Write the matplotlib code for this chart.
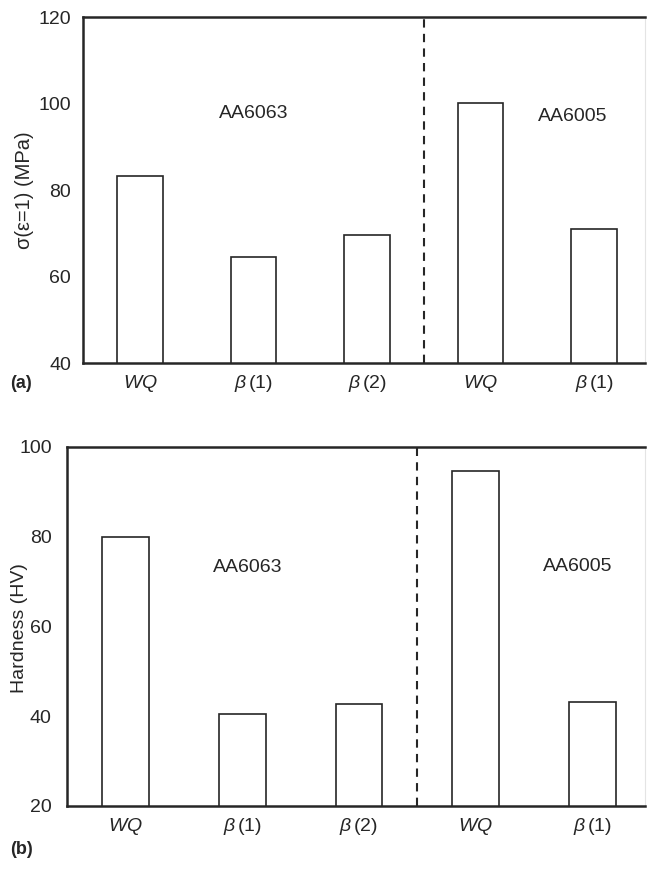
import matplotlib
matplotlib.use("Agg")
import matplotlib.pyplot as plt

plt.rcParams['font.family'] = ['Liberation Sans', 'DejaVu Sans']
plt.rcParams['mathtext.fontset'] = 'custom'
plt.rcParams['mathtext.rm'] = 'Liberation Sans'
plt.rcParams['mathtext.it'] = 'Liberation Sans:italic'

categories = [r'$WQ$', r'$\beta\,$(1)', r'$\beta\,$(2)', r'$WQ$', r'$\beta\,$(1)']
flow_stress = [83.3, 64.5, 69.7, 100.3, 71.0]
hardness = [79.8, 40.4, 42.6, 94.5, 43.1]

alloy_names = ['AA6063', 'AA6005']

ink = '#262626'
fs = 14


def style_axes(ax, ymin, ymax, ypad):
    ax.set_xlim(-0.5, 4.45)
    ax.set_ylim(ymin, ymax)
    ax.set_yticks(range(ymin, ymax + 1, 20))
    ax.set_xticks(range(len(categories)))
    ax.set_xticklabels(categories)
    ax.tick_params(length=0, labelsize=fs, colors=ink)
    ax.tick_params(axis='y', pad=ypad)
    ax.tick_params(axis='x', pad=7)
    for side in ['top', 'left', 'bottom']:
        ax.spines[side].set_linewidth(1.8)
        ax.spines[side].set_color(ink)
    ax.spines['right'].set_color('#e4e4e4')
    ax.spines['right'].set_linewidth(0.8)
    ax.axvline(2.5, color=ink, linestyle=(0, (4, 3)), linewidth=1.5)


fig = plt.figure(figsize=(6.47, 8.69), dpi=100)

# (a) flow stress
ax1 = fig.add_axes([0.129, 0.582, 0.868, 0.398])
ax1.bar(range(len(categories)), flow_stress, width=0.4, color='white',
        edgecolor=ink, linewidth=1.2)
style_axes(ax1, 40, 120, 9)
ax1.text(1.0, 97.8, alloy_names[0], fontsize=fs, color=ink, ha='center', va='center')
ax1.text(3.81, 97.0, alloy_names[1], fontsize=fs, color=ink, ha='center', va='center')

# (b) hardness
ax2 = fig.add_axes([0.1036, 0.0725, 0.8934, 0.4135])
ax2.bar(range(len(categories)), hardness, width=0.4, color='white',
        edgecolor=ink, linewidth=1.2)
style_axes(ax2, 20, 100, 11)
ax2.text(1.05, 73.0, alloy_names[0], fontsize=fs, color=ink, ha='center', va='center')
ax2.text(3.87, 73.3, alloy_names[1], fontsize=fs, color=ink, ha='center', va='center')

# y labels placed in figure coordinates so they stay inside the canvas
fig.text(24 / 647, 1 - 190 / 869, 'σ(ε=1) (MPa)', fontsize=14.5, color=ink,
         rotation=90, ha='center', va='center')
fig.text(20 / 647, 1 - 628 / 869, 'Hardness (HV)', fontsize=fs, color=ink,
         rotation=90, ha='center', va='center')

fig.text(0.015, 0.559, '(a)', fontsize=13, fontweight='bold', color=ink, va='center')
fig.text(0.015, 0.022, '(b)', fontsize=13, fontweight='bold', color=ink, va='center')

fig.savefig('out.png', dpi=100)
